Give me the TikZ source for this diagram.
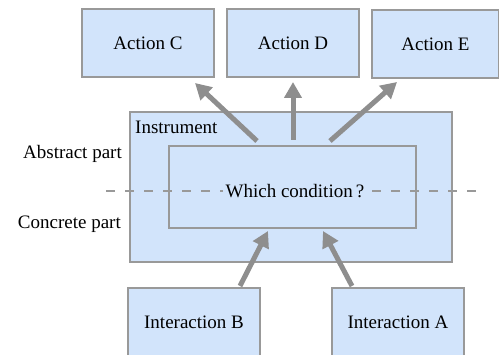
\documentclass[tikz,border=0pt]{standalone}
\usepackage{fontspec}
\setmainfont{Liberation Serif}
\usetikzlibrary{arrows.meta}
\definecolor{boxfill}{HTML}{D2E4FB}
\definecolor{boxline}{HTML}{999999}
\definecolor{arrgray}{HTML}{8E8E8E}
\tikzset{
  box/.style={draw=boxline, fill=boxfill, line width=1.5pt, inner sep=0pt},
  lbl/.style={inner sep=0pt, font=\fontsize{19}{22}\selectfont},
  bigarrow/.style={draw=arrgray, line width=5pt, -{Triangle[length=16pt,width=17pt]}},
}
\begin{document}
\begin{tikzpicture}[x=1pt,y=-1pt]
\useasboundingbox (0,0) rectangle (499,355);
% top action boxes
\node[box, minimum width=132pt, minimum height=68pt, font=\fontsize{19}{22}\selectfont] (C) at (148,43) {Action C};
\node[box, minimum width=132pt, minimum height=68pt, font=\fontsize{19}{22}\selectfont] (D) at (293,43) {Action D};
\node[box, minimum width=127pt, minimum height=68pt, font=\fontsize{19}{22}\selectfont] (E) at (435.5,44) {Action E};
% instrument
\node[box, minimum width=322pt, minimum height=150pt] (I) at (291,187) {};
\node[box, minimum width=247pt, minimum height=82pt] (W) at (292.5,187) {};
\node[lbl, anchor=west] (Ilbl) at (135,127) {Instrument};
% dashed separator
\coordinate (dl) at (106,191);
\coordinate (dr) at (477,191);
\draw[boxline, line width=2.8pt, dash pattern=on 9pt off 10pt] (dl) -- (dr);
\node[lbl, fill=boxfill, inner xsep=3pt, inner ysep=2pt] (Q) at (295,191) {Which condition\,?};
% side labels
\node[lbl, anchor=east] (abs) at (122,154) {Abstract part};
\node[lbl, anchor=east] (con) at (121,224) {Concrete part};
% bottom boxes
\node[box, minimum width=132pt, minimum height=68pt, font=\fontsize{19}{22}\selectfont] (B) at (194,322) {Interaction B};
\node[box, minimum width=132pt, minimum height=68pt, font=\fontsize{19}{22}\selectfont] (A) at (398,322) {Interaction A};
% arrow anchors
\coordinate (c0) at (257,141); \coordinate (c1) at (195,83);
\coordinate (d0) at (293,140); \coordinate (d1) at (293,82);
\coordinate (e0) at (330,141); \coordinate (e1) at (397,82);
\coordinate (b0) at (240,286); \coordinate (b1) at (268,231);
\coordinate (a0) at (352,286); \coordinate (a1) at (323,231);
\draw[bigarrow] (c0) -- (c1);
\draw[bigarrow] (d0) -- (d1);
\draw[bigarrow] (e0) -- (e1);
\draw[bigarrow] (b0) -- (b1);
\draw[bigarrow] (a0) -- (a1);
\end{tikzpicture}
\end{document}
